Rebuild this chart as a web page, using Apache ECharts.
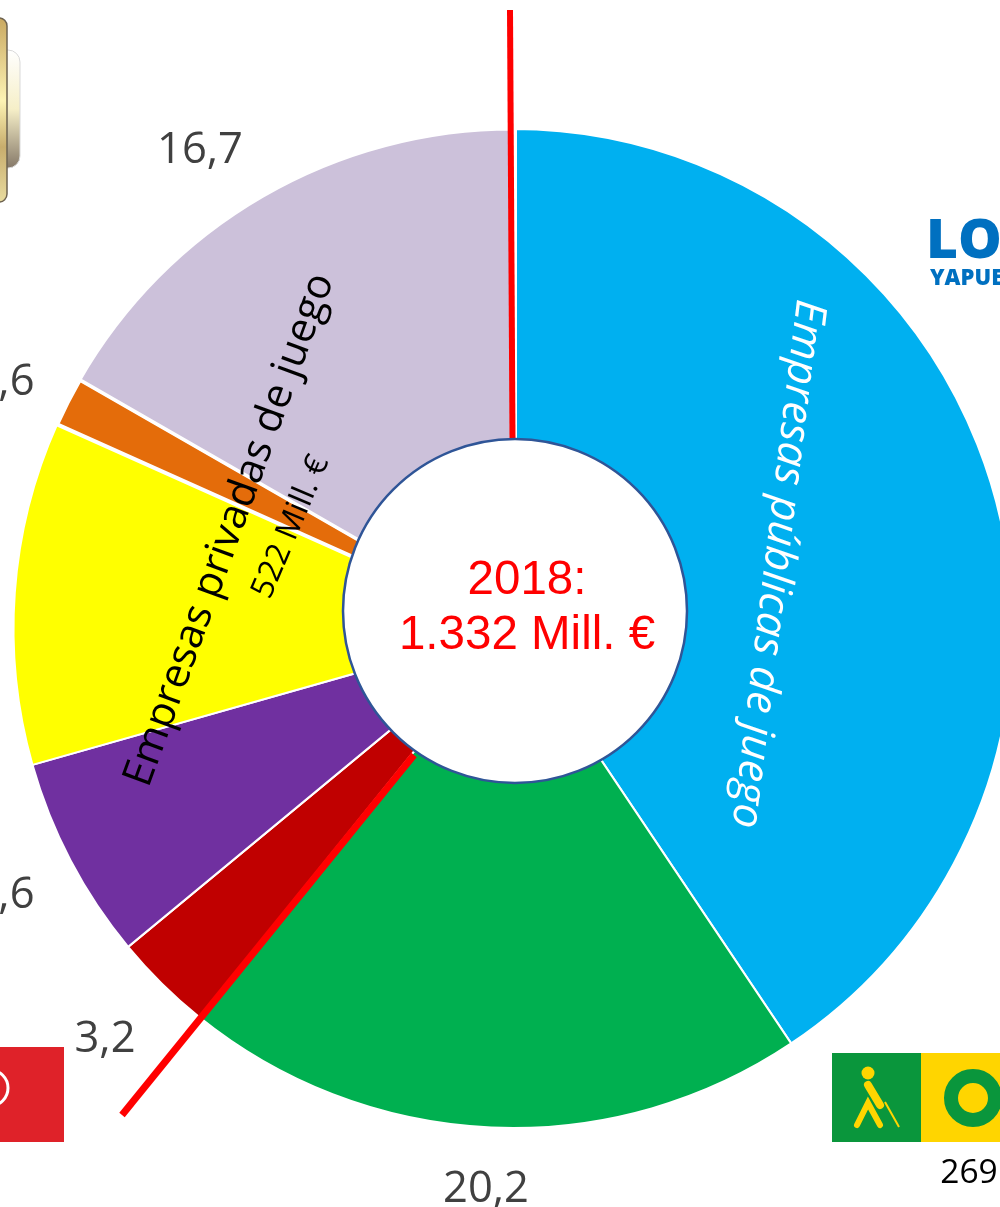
<!DOCTYPE html>
<html><head><meta charset="utf-8">
<style>html,body{margin:0;padding:0;background:#fff;overflow:hidden}#c{width:1000px;height:1207px}</style>
<script src="https://cdn.jsdelivr.net/npm/echarts@6/dist/echarts.min.js"></script>
</head><body><div id="c"></div>
<script>
const categories = ['Loterías y Apuestas del Estado','ONCE','Cirsa','Codere','Inversiones privadas','Otros juegos','Otras empresas'];
const values = [40.6,20.2,3.2,6.6,11.1,1.6,16.7];
const colors = ['#00B0F0','#00B050','#C00000','#7030A0','#FFFF00','#E46C0A','#CCC1DA'];
const borders = [2,2,2,2,2,4,3];
const labelShown = [false,true,true,true,false,true,true];
const labelPos = [null,[486,1190],[105,1040],[4,896],null,[4,383],[200,151]];

const font='Open Sans';
const textFont='"Open Sans"';
const chart = echarts.init(document.getElementById('c'),null,{renderer:'canvas'});
const rt=(text,x,y,deg,fontSpec,fill)=>({type:'text',z:20,x,y,rotation:deg*Math.PI/180,
  style:{text,x:0,y:0,fill,font:fontSpec,textAlign:'center',textVerticalAlign:'middle'}});
chart.setOption({
  animation:false,
  series:[{
    type:'pie',center:[513,628.5],radius:[150,499.5],startAngle:90,clockwise:true,
    avoidLabelOverlap:false,silent:true,
    label:{position:'outside',color:'#404040',fontFamily:font,fontSize:43.5,
      overflow:'none',formatter:p=>String(p.value).replace('.',',')},
    labelLine:{show:false},
    labelLayout:p=>{const q=labelPos[p.dataIndex];return q?{x:q[0],y:q[1],align:'center',verticalAlign:'middle'}:{}},
    data:categories.map((name,i)=>({name,value:values[i],itemStyle:{color:colors[i],borderColor:'#fff',borderWidth:borders[i]},label:{show:labelShown[i]}}))
  }],
  graphic:{elements:[
    {type:'line',z:9,shape:{x1:515.5,y1:125,x2:515.5,y2:440},style:{stroke:'#fff',lineWidth:3}},
    {type:'line',z:10,shape:{x1:510,y1:10,x2:512.5,y2:440},style:{stroke:'#FF0000',lineWidth:6}},
    {type:'line',z:10,shape:{x1:414,y1:755,x2:122,y2:1115},style:{stroke:'#FF0000',lineWidth:7}},
    {type:'circle',z:11,shape:{cx:515,cy:611,r:172},style:{fill:'#fff',stroke:'#2F5597',lineWidth:2.5}},
    {type:'text',z:20,style:{text:'2018:',x:527,y:581,fill:'#FF0000',font:'47.5px "Liberation Sans"',textAlign:'center',textVerticalAlign:'middle'}},
    {type:'text',z:20,style:{text:'1.332 Mill. €',x:527,y:636,fill:'#FF0000',font:'47.5px "Liberation Sans"',textAlign:'center',textVerticalAlign:'middle'}},
    rt('Empresas públicas de juego',777,564,-97,'italic 400 43.5px '+textFont,'#fff'),
    rt('Empresas privadas de juego',230,530,70,'41.5px '+textFont,'#000'),
    rt('522 Mill. €',291,527,67,'32px '+textFont,'#000'),
    // gold trophy fragment
    {type:'rect',z:4,shape:{x:-10,y:50,width:30,height:118,r:12},style:{fill:new echarts.graphic.LinearGradient(0,0,0,1,[{offset:0,color:'#ffffff'},{offset:.5,color:'#f6efc8'},{offset:1,color:'#857868'}]),stroke:'#d9d9d9',lineWidth:1}},
    {type:'rect',z:5,shape:{x:-12,y:18,width:19,height:184,r:8},style:{fill:new echarts.graphic.LinearGradient(0,0,0,1,[{offset:0,color:'#c9a860'},{offset:.45,color:'#fdf3b4'},{offset:.7,color:'#c8ad6d'},{offset:1,color:'#e9dca0'}]),stroke:'#6e6350',lineWidth:1.5}},
    // blue logo fragment
    {type:'text',z:5,style:{text:'LO',x:926,y:242,fill:'#0070C0',font:'800 55px "Open Sans"',textVerticalAlign:'middle'}},
    {type:'text',z:5,style:{text:'YAPUESTAS',x:930,y:279,fill:'#0070C0',font:'800 22px "Open Sans"',textVerticalAlign:'middle'}},
    // ONCE logo fragment
    {type:'rect',z:5,shape:{x:832,y:1053,width:89,height:89},style:{fill:'#0A963C'}},
    {type:'rect',z:5,shape:{x:921,y:1053,width:79,height:89},style:{fill:'#FFD500'}},
    {type:'circle',z:6,shape:{cx:973,cy:1098,r:22},style:{fill:'none',stroke:'#0A963C',lineWidth:14}},
    {type:'circle',z:6,shape:{cx:868,cy:1073,r:6.5},style:{fill:'#FFD500'}},
    {type:'line',z:6,shape:{x1:868,y1:1085,x2:880,y2:1105},style:{stroke:'#FFD500',lineWidth:8,lineCap:'round'}},
    {type:'polyline',z:6,shape:{points:[[857,1125],[868,1103],[880,1125]]},style:{stroke:'#FFD500',fill:'none',lineWidth:6,lineCap:'round'}},
    {type:'line',z:6,shape:{x1:885,y1:1102,x2:899,y2:1127},style:{stroke:'#FFD500',lineWidth:2}},
    {type:'text',z:6,style:{text:'269',x:969,y:1173,fill:'#000',font:'33.5px "Open Sans"',textAlign:'center',textVerticalAlign:'middle'}},
    // red logo fragment
    {type:'rect',z:5,shape:{x:0,y:1047,width:64,height:95},style:{fill:'#DF2229'}},
    {type:'circle',z:6,shape:{cx:-10,cy:1088,r:18},style:{fill:'none',stroke:'#fff',lineWidth:3}}
  ]}
});
</script></body></html>
